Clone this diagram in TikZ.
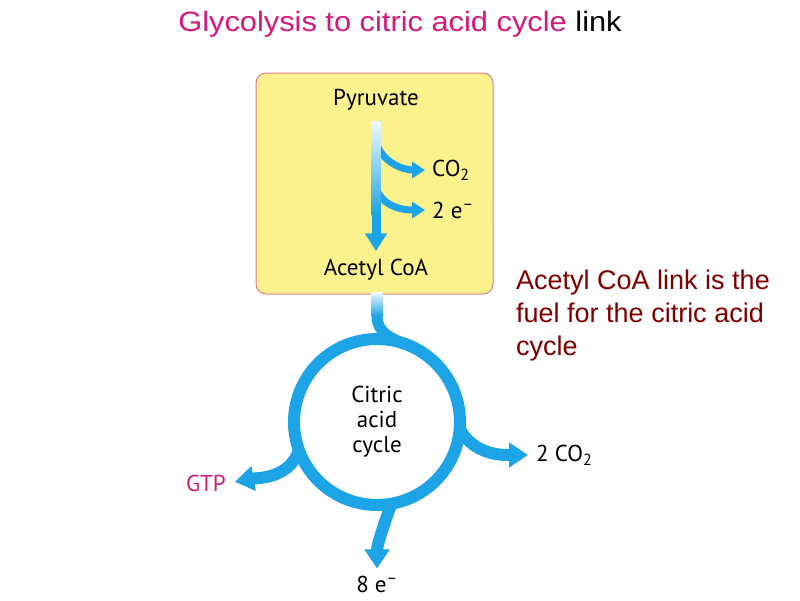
\documentclass[tikz,border=0pt]{standalone}
\usepackage{fontspec}
\setmainfont{Liberation Sans}
\newfontfamily\titlefont{Liberation Sans}[FakeStretch=1.1]
\newfontfamily\figfont{PT Sans}
\usetikzlibrary{positioning, arrows.meta, calc}

\definecolor{flowblue}{RGB}{28,164,230}
\definecolor{boxyellow}{RGB}{251,242,142}
\definecolor{boxedge}{RGB}{222,128,140}
\definecolor{titlepink}{RGB}{214,24,124}
\definecolor{gtppink}{RGB}{200,30,120}
\definecolor{notered}{RGB}{128,0,0}

\tikzset{
  flow/.style={draw=flowblue, line width=9pt, -{Triangle[width=21pt,length=18pt]}},
  branch/.style={draw=flowblue, line width=7pt, -{Triangle[width=16pt,length=13pt]}},
  ring/.style={draw=flowblue, line width=12pt, -{Triangle[width=24pt,length=19pt]}},
  figtext/.style={font=\figfont\fontsize{23}{26}\selectfont, inner sep=2pt},
}

\begin{document}
\begin{tikzpicture}[x=1pt, y=-1pt]
  \useasboundingbox (0,0) rectangle (800,600);

  \node[anchor=base, font=\titlefont\fontsize{28}{32}\selectfont] (title) at (400,31)
    {\textcolor{titlepink}{Glycolysis to citric acid cycle} link};

  % pyruvate -> acetyl CoA
  \node[draw=boxedge, fill=boxyellow, rounded corners=10pt, line width=1pt,
        minimum width=237pt, minimum height=221pt] (box) at (374.5,183.5) {};
  \node[figtext] (pyr) at (376,100) {Pyruvate};
  \node[figtext] (acoa) at (376,270) {Acetyl CoA};
  \node[figtext, anchor=west] (co2) at (430,170) {CO\textsubscript{2}};
  \node[figtext, anchor=west] (ea) at (430,210) {2 e\textsuperscript{–}};

  \coordinate (fork1) at (376,143);
  \coordinate (fork2) at (376,188);

  \draw[flow, shorten <=8pt, shorten >=6pt] (pyr.south) -- (acoa.north);
  \draw[branch, shorten >=5pt] (fork1) to[out=-70, in=180] (co2.west);
  \draw[branch, shorten >=5pt] (fork2) to[out=-70, in=180] (ea.west);
  \shade[top color=flowblue!6, bottom color=flowblue] (371.5,121) rectangle (380.5,215);

  % citric acid cycle
  \node[figtext, circle, draw=flowblue, line width=12pt, outer sep=0pt,
        minimum size=166pt, align=center,
        font=\figfont\fontsize{23}{25}\selectfont] (cyc) at (377,422)
        {Citric\\acid\\cycle};
  \node[figtext, anchor=west] (co2b) at (534,455) {2 CO\textsubscript{2}};
  \node[figtext, anchor=east, text=gtppink] (gtp) at (228,483) {GTP};
  \node[figtext] (e8) at (377,584) {8 e\textsuperscript{–}};

  \draw[draw=flowblue, line width=11pt] (box.south -| cyc.north) -- ++(0,22)
    to[out=-90, in=160] (cyc.70);
  \shade[top color=flowblue!6, bottom color=flowblue] (371.5,292) rectangle (382.5,316);

  \draw[ring, shorten >=6pt] (cyc.-5) to[out=-60, in=180] (co2b.west);
  \draw[ring, shorten >=7pt] (cyc.200) to[out=250, in=10] (gtp.east);
  \draw[ring, shorten >=5pt] (cyc.-80) to[out=-110, in=90] (e8.north);

  \node[anchor=base west, align=left, inner sep=0pt, text=notered,
        font=\fontsize{27}{33}\selectfont] (note) at (516,355)
    {Acetyl CoA link is the\\fuel for the citric acid\\cycle};
\end{tikzpicture}
\end{document}
